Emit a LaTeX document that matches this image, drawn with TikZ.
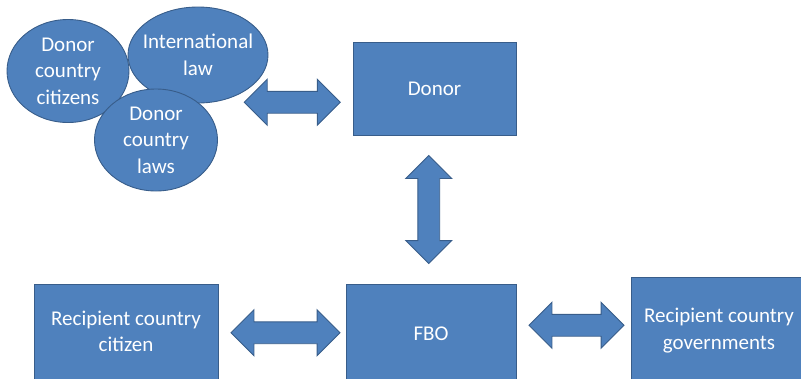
\documentclass[tikz,border=0pt]{standalone}
\usepackage{fontspec}
\setmainfont{Carlito}
\usetikzlibrary{shapes.geometric,shapes.arrows}
\definecolor{officeblue}{HTML}{4F81BD}
\definecolor{officeedge}{HTML}{385D8A}
\tikzstyle{bluebox} = [draw=officeedge, fill=officeblue, line width=0.9pt,
    rectangle, text=white, align=center, font=\fontsize{21}{26.5}\selectfont]
\tikzstyle{blueoval} = [bluebox, ellipse, inner sep=0pt, inner xsep=-14pt, inner ysep=-2pt]
\tikzstyle{dblarrow} = [draw=officeedge, fill=officeblue, line width=0.9pt,
    double arrow, double arrow head extend=12pt, double arrow tip angle=90,
    inner sep=0pt, inner ysep=10.5pt, minimum width=0pt]

\begin{document}
\begin{tikzpicture}[x=1pt, y=-1pt]
\useasboundingbox (0,0) rectangle (801,378);
% donor side influences
\node [blueoval, minimum width=122, minimum height=103] (citz) at (68,71) {Donor\\country\\citizens};
\node [blueoval, minimum width=140, minimum height=96] (intl) at (198,55) {International\\law};
\node [blueoval, minimum width=123, minimum height=102] (laws) at (156,140) {Donor\\country\\laws};
% boxes
\node [bluebox, minimum width=163, minimum height=93] (donor) at (434.5,88.5) {Donor};
\node [bluebox, minimum width=170, minimum height=100] (fbo) at (431,334) {FBO};
\node [bluebox, minimum width=184, minimum height=95] (rcit) at (126,331.5) {Recipient country\\citizen};
\node [bluebox, minimum width=176, minimum height=107] (rgov) at (719,330.5) {Recipient country\\governments};
% arrows
\path (laws.east) -- node[dblarrow, minimum height=96, xshift=7pt, yshift=12pt] {} (donor.west);
\path (donor.south) -- node[dblarrow, minimum height=108, xshift=-4pt, rotate=90] {} (fbo.north);
\path (rcit.east) -- node[dblarrow, minimum height=109, xshift=3.5pt] {} (fbo.west);
\path (fbo.east) -- node[dblarrow, minimum height=95, xshift=3pt, yshift=7pt] {} (rgov.west);
\end{tikzpicture}
\end{document}
